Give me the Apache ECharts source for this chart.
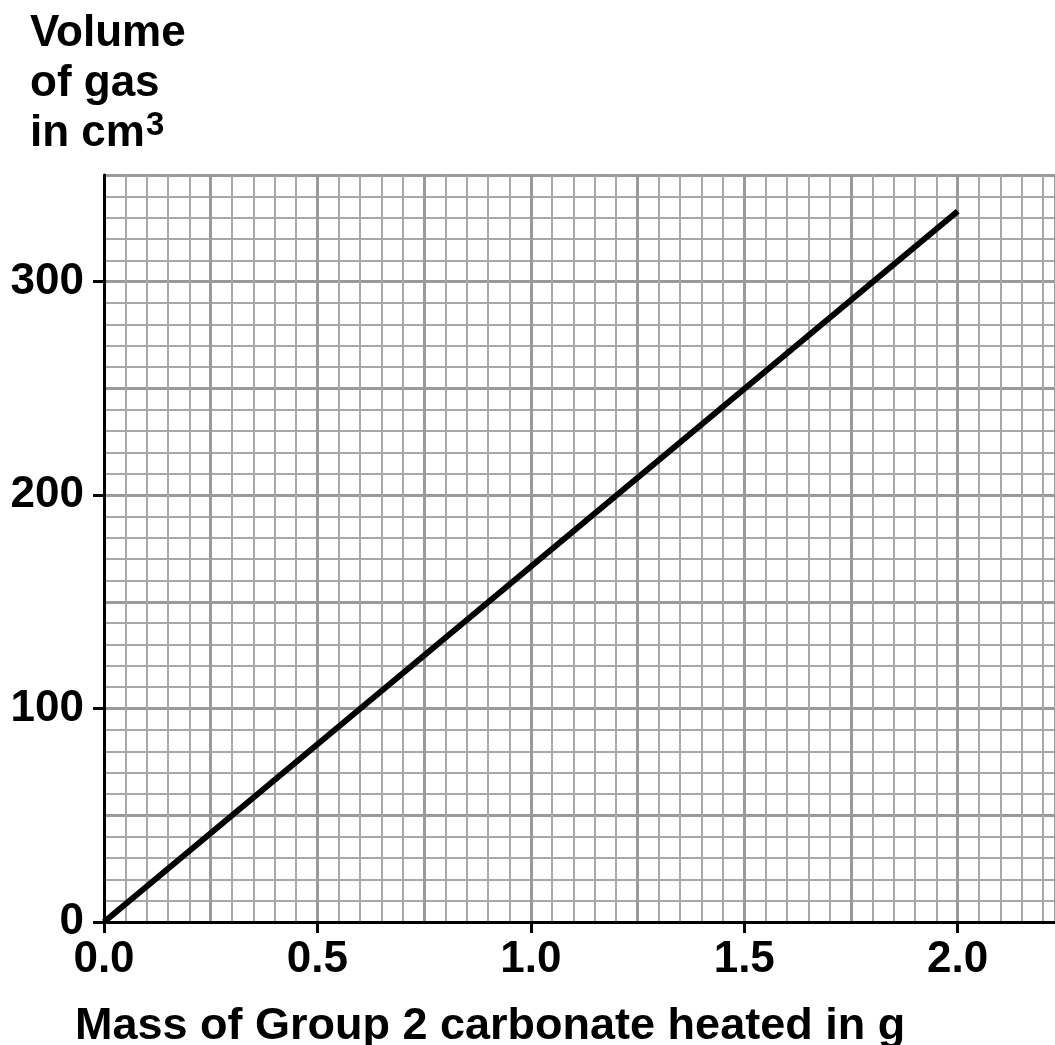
<!DOCTYPE html>
<html>
<head>
<meta charset="utf-8">
<script src="https://cdn.jsdelivr.net/npm/echarts@6/dist/echarts.min.js"></script>
<style>
html,body{margin:0;padding:0;background:#fff;}
#chart{width:1055px;height:1045px;}
</style>
</head>
<body>
<div id="chart"></div>
<script>
// Data
const massG = [0.0, 2.0];
const volumeCm3 = [0, 333];
const xTickLabels = ['0.0', '0.5', '1.0', '1.5', '2.0'];
const yTickLabels = ['0', '100', '200', '300'];
const xName = 'Mass of Group 2 carbonate heated in g';
const yNameLines = ['Volume', 'of gas', 'in cm'];
const ySup = '3';

const X_MIN = 0, X_MAX = 2.228, Y_MIN = 0, Y_MAX = 350;
const FONT = '"Liberation Sans", Arial, Helvetica, sans-serif';

const xTickValues = xTickLabels.map(Number);
const yTickValues = yTickLabels.map(Number);

function fmt(labels) {
  return function (v) {
    for (const l of labels) { if (Math.abs(Number(l) - v) < 1e-6) return l; }
    return '';
  };
}

function gridAxis(interval, color, width, extra) {
  return Object.assign({
    type: 'value', interval: interval,
    axisLine: {show: false}, axisTick: {show: false}, axisLabel: {show: false},
    splitLine: {show: true, lineStyle: {color: color, width: width}},
    z: 1
  }, extra);
}

const chart = echarts.init(document.getElementById('chart'), null, {renderer: 'canvas'});
const seriesData = massG.map((m, i) => [m, volumeCm3[i]]);

chart.setOption({
  backgroundColor: '#ffffff',
  animation: false,
  title: [
    {
      left: 30, top: 9, padding: 0,
      text: yNameLines[0] + '\n' + yNameLines[1] + '\n' + yNameLines[2] + '{sup|' + ySup + '}',
      textStyle: {
        fontFamily: FONT, fontWeight: 'bold', fontSize: 44, lineHeight: 50, color: '#000',
        rich: {sup: {fontFamily: FONT, fontWeight: 'bold', fontSize: 33, lineHeight: 34, verticalAlign: 'top', color: '#000', padding: [0, 0, 0, 1]}}
      }
    },
    {
      left: 75, top: 1004, padding: 0,
      text: xName,
      textStyle: {fontFamily: FONT, fontWeight: 'bold', fontSize: 45, color: '#000'}
    }
  ],
  grid: {left: 104, right: 0, top: 175, bottom: 123, containLabel: false},
  xAxis: [
    gridAxis(0.05, '#a8a8a8', 2, {min: X_MIN, max: X_MAX, position: 'bottom'}),
    gridAxis(0.25, '#9a9a9a', 3, {min: X_MIN, max: X_MAX, position: 'bottom'}),
    {
      type: 'value', min: X_MIN, max: X_MAX, interval: 0.5, position: 'bottom', z: 5,
      axisLine: {show: true, onZero: false, lineStyle: {color: '#000', width: 3}},
      axisTick: {show: true, length: 11, customValues: xTickValues, lineStyle: {color: '#000', width: 3}},
      axisLabel: {show: true, margin: 16, customValues: xTickValues, formatter: fmt(xTickLabels), color: '#000',
        fontFamily: FONT, fontWeight: 'bold', fontSize: 44},
      splitLine: {show: false}
    }
  ],
  yAxis: [
    gridAxis(10, '#a8a8a8', 2, {min: Y_MIN, max: Y_MAX, position: 'left'}),
    gridAxis(50, '#9a9a9a', 3, {min: Y_MIN, max: Y_MAX, position: 'left'}),
    {
      type: 'value', min: Y_MIN, max: Y_MAX, interval: 100, position: 'left', z: 5,
      axisLine: {show: true, onZero: false, lineStyle: {color: '#000', width: 3}},
      axisTick: {show: true, length: 11, customValues: yTickValues, lineStyle: {color: '#000', width: 3}},
      axisLabel: {show: true, margin: 20, customValues: yTickValues, formatter: fmt(yTickLabels), color: '#000',
        fontFamily: FONT, fontWeight: 'bold', fontSize: 44},
      splitLine: {show: false}
    }
  ],
  series: [{
    type: 'line', xAxisIndex: 2, yAxisIndex: 2,
    data: seriesData, showSymbol: false, symbol: 'none',
    lineStyle: {color: '#000', width: 6}, z: 3
  }]
});
</script>
</body>
</html>
